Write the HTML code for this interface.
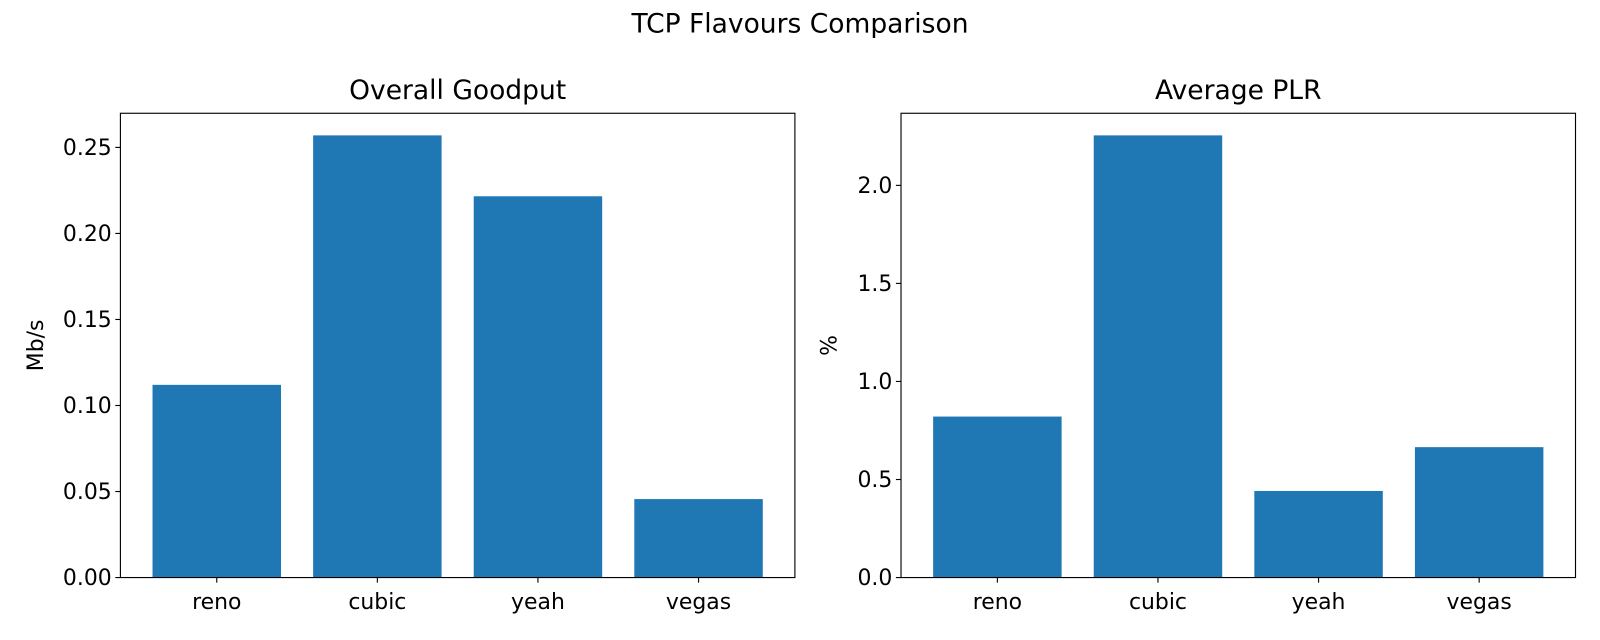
<!DOCTYPE html>
<html><head><meta charset="utf-8"><style>
body{margin:0;background:#fff;}
svg{display:block;font-family:"DejaVu Sans","Liberation Sans",sans-serif;}
</style></head><body>
<svg id="fig" width="1600" height="640" xmlns="http://www.w3.org/2000/svg">
<g id="root" transform="scale(1.020408)">
<text x="784" y="32" font-size="26" text-anchor="middle">TCP Flavours Comparison</text>
</g>
</svg>
<script>
const categories = ["reno","cubic","yeah","vegas"];
const goodputValues = [0.112, 0.257, 0.2216, 0.0456];
const plrValues = [0.821, 2.255, 0.4416, 0.665];
const goodputTicks = [0, 0.05, 0.10, 0.15, 0.20, 0.25];
const goodputTickLabels = ["0.00","0.05","0.10","0.15","0.20","0.25"];
const plrTicks = [0, 0.5, 1.0, 1.5, 2.0];
const plrTickLabels = ["0.0","0.5","1.0","1.5","2.0"];

const NS = "http://www.w3.org/2000/svg";
const root = document.getElementById('root');
function mk(tag, attrs, parent){
  const e = document.createElementNS(NS, tag);
  for (const k in attrs) e.setAttribute(k, attrs[k]);
  (parent||root).appendChild(e);
  return e;
}
function panel(key, x0, x1, y0, y1, title, ylabel, ylx, values, ticks, tickLabels){
  const g = mk('g', {});
  
  
  const ymax = Math.max(...values) * 1.05;
  const ys = v => y1 - v / ymax * (y1 - y0);
  const xs = v => x0 + (v + 0.6) / 4.2 * (x1 - x0);
  values.forEach((v, i) => {
    const r = mk('rect', {x: xs(i - 0.4), y: ys(v), width: xs(i + 0.4) - xs(i - 0.4), height: ys(0) - ys(v), fill: '#1f77b4'}, g);
    
    
  });
  mk('rect', {x: x0, y: y0, width: x1 - x0, height: y1 - y0, fill: 'none', stroke: '#000', 'stroke-width': 1.1}, g);
  ticks.forEach((t, i) => {
    const y = ys(t);
    mk('line', {x1: x0 - 5, x2: x0, y1: y, y2: y, stroke: '#000', 'stroke-width': 1.1}, g);
    const tx = mk('text', {x: x0 - 8.5, y: y + 7.5, 'font-size': 21.5, 'text-anchor': 'end'}, g);
    tx.textContent = tickLabels[i];
    
    
  });
  categories.forEach((c, i) => {
    const x = xs(i);
    mk('line', {x1: x, x2: x, y1: y1, y2: y1 + 5, stroke: '#000', 'stroke-width': 1.1}, g);
    const tx = mk('text', {x: x, y: y1 + 31, 'font-size': 21.5, 'text-anchor': 'middle'}, g);
    tx.textContent = c;
    
    
  });
  const t = mk('text', {x: (x0 + x1) / 2, y: y0 - 14, 'font-size': 26, 'text-anchor': 'middle'}, g);
  t.textContent = title;
  
  
  const yl = mk('text', {x: 0, y: 0, 'font-size': 21.5, 'text-anchor': 'middle', transform: `translate(${ylx},${(y0 + y1) / 2}) rotate(-90)`}, g);
  yl.textContent = ylabel;
  
  
}
panel('goodput', 118, 779, 111, 566, 'Overall Goodput', 'Mb/s', 42, goodputValues, goodputTicks, goodputTickLabels);
panel('plr', 883, 1544, 111, 566, 'Average PLR', '%', 820, plrValues, plrTicks, plrTickLabels);
</script>
</body></html>
